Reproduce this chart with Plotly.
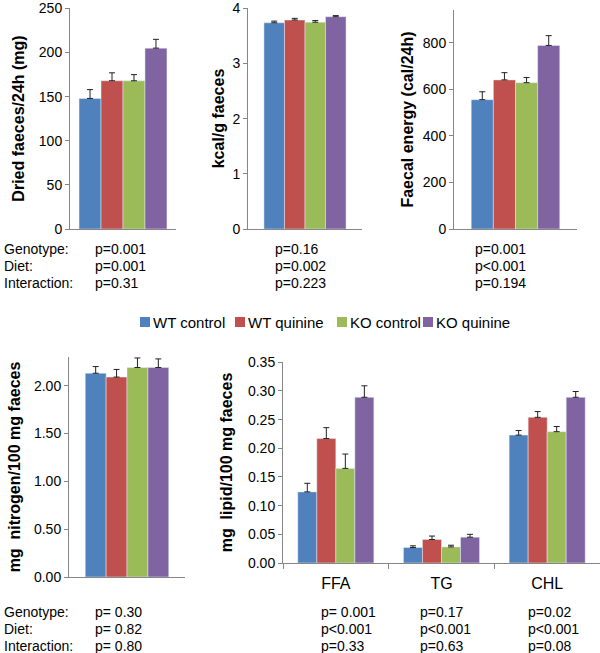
import plotly.graph_objects as go

W, H = 600, 653

# ── Datos ──────────────────────────────────────────────────────────────────────
groups = ["WT control", "WT quinine", "KO control", "KO quinine"]
colors = ["#4F81BD", "#C0504D", "#9BBB59", "#8064A2"]

faeces_mean = [148, 168, 168, 205]
faeces_err = [10, 9, 7, 10]

kcal_mean = [3.74, 3.79, 3.75, 3.85]
kcal_err = [0.03, 0.03, 0.03, 0.02]

energy_mean = [555, 640, 628, 788]
energy_err = [34, 31, 22, 42]

nitrogen_mean = [2.13, 2.09, 2.19, 2.19]
nitrogen_err = [0.07, 0.08, 0.10, 0.09]

lipid_cats = ["FFA", "TG", "CHL"]
lipid_wt_control = [0.124, 0.027, 0.223]
lipid_wt_control_err = [0.015, 0.003, 0.008]
lipid_wt_quinine = [0.217, 0.041, 0.254]
lipid_wt_quinine_err = [0.019, 0.006, 0.010]
lipid_ko_control = [0.165, 0.028, 0.229]
lipid_ko_control_err = [0.025, 0.003, 0.009]
lipid_ko_quinine = [0.289, 0.045, 0.289]
lipid_ko_quinine_err = [0.020, 0.005, 0.010]

p_rows = ["Genotype:", "Diet:", "Interaction:"]
p_faeces = ["p=0.001", "p=0.001", "p=0.31"]
p_kcal = ["p=0.16", "p=0.002", "p=0.223"]
p_energy = ["p=0.001", "p<0.001", "p=0.194"]
p_nitrogen = ["p= 0.30", "p= 0.82", "p= 0.80"]
p_ffa = ["p= 0.001", "p<0.001", "p=0.33"]
p_tg = ["p=0.17", "p<0.001", "p=0.63"]
p_chl = ["p=0.02", "p<0.001", "p=0.08"]

FONT = "Liberation Sans, Arial, sans-serif"
AXIS_GREY = "#868686"


def px_x(a, b):
    return [a / W, b / W]


def px_y(bottom, top):
    return [1 - bottom / H, 1 - top / H]


fig = go.Figure()

# ── Paneles de un solo grupo ──────────────────────────────────────────────────
single = [
    (faeces_mean, faeces_err, ""),
    (kcal_mean, kcal_err, "2"),
    (energy_mean, energy_err, "3"),
    (nitrogen_mean, nitrogen_err, "4"),
]
for k, (means, errs, ax) in enumerate(single):
    for i, g in enumerate(groups):
        fig.add_trace(go.Bar(
            x=[0], y=[means[i]], name=g,
            marker_color=colors[i],
            error_y=dict(type="data", array=[errs[i]], arrayminus=[0],
                         symmetric=False, color="#222", thickness=1, width=3),
            xaxis="x" + ax, yaxis="y" + ax,
            legendgroup=g, showlegend=False,
        ))

# ── Panel de lípidos ──────────────────────────────────────────────────────────
lipid_series = [
    (lipid_wt_control, lipid_wt_control_err),
    (lipid_wt_quinine, lipid_wt_quinine_err),
    (lipid_ko_control, lipid_ko_control_err),
    (lipid_ko_quinine, lipid_ko_quinine_err),
]
for i, (vals, errs) in enumerate(lipid_series):
    fig.add_trace(go.Bar(
        x=lipid_cats, y=vals, name=groups[i],
        marker_color=colors[i],
        error_y=dict(type="data", array=errs, arrayminus=[0] * len(errs),
                     symmetric=False, color="#222", thickness=1, width=3),
        xaxis="x5", yaxis="y5",
        legendgroup=groups[i], showlegend=False,
    ))

tickfont = dict(size=14, color="#000", family=FONT)
titlefont = dict(size=16, color="#000", family=FONT, weight="bold")


def yax(domain, anchor, rng, dtick, title, standoff, fmt=None):
    d = dict(domain=domain, anchor=anchor, range=rng, dtick=dtick, tick0=0,
             showgrid=False, zeroline=False, showline=True, linecolor=AXIS_GREY,
             linewidth=1, ticks="outside", ticklen=4, tickcolor=AXIS_GREY,
             tickfont=tickfont,
             title=dict(text=title, font=titlefont, standoff=standoff),
             automargin=False, fixedrange=True)
    if fmt:
        d["tickformat"] = fmt
    return d


def xax_single(domain, anchor, half):
    return dict(domain=domain, anchor=anchor, range=[-half, half],
                showgrid=False, zeroline=False, showline=True,
                linecolor=AXIS_GREY, linewidth=1, showticklabels=False,
                ticks="", automargin=False, fixedrange=True)


fig.update_layout(
    width=W, height=H,
    margin=dict(l=0, r=0, t=0, b=0),
    plot_bgcolor="white", paper_bgcolor="white",
    font=dict(family=FONT, color="#000"),
    showlegend=False,
    barmode="group", bargap=0.28, bargroupgap=0,
    xaxis=xax_single(px_x(70, 176), "y", 0.434),
    yaxis=yax(px_y(229, 8), "x", [0, 250.5], 50, "Dried faeces/24h (mg)", 10),
    xaxis2=xax_single(px_x(248, 362), "y2", 0.5),
    yaxis2=yax(px_y(229, 8), "x2", [0, 4.008], 1, "kcal/g faeces", 3),
    xaxis3=xax_single(px_x(454, 577), "y3", 0.5),
    yaxis3=yax(px_y(229, 10), "x3", [0, 940], 200,
               "Faecal energy (cal/24h)", 5),
    xaxis4=xax_single(px_x(69, 185), "y4", 0.5),
    yaxis4=yax(px_y(577, 357), "x4", [0, 2.3], 0.5,
               "mg \u00a0nitrogen/100 mg faeces", 9, ".2f"),
    xaxis5=dict(domain=px_x(283, 600), anchor="y5", range=[-0.5, 2.5],
                type="category", tickson="boundaries", ticks="outside",
                ticklen=5, tickcolor=AXIS_GREY, showgrid=False, zeroline=False,
                showline=True, linecolor=AXIS_GREY, linewidth=1,
                ticklabelstandoff=6,
                tickfont=dict(size=16, color="#000", family=FONT),
                automargin=False, fixedrange=True),
    yaxis5=yax(px_y(563, 362), "x5", [0, 0.3505], 0.05,
               "mg \u00a0lipid/100 mg faeces", 11, ".2f"),
)

# ── Leyenda (cuadro de color + texto, estilo Excel) ───────────────────────────
legend_square_x = [140, 235, 337, 423]
legend_y = 322
for i, g in enumerate(groups):
    x0 = legend_square_x[i]
    fig.add_shape(type="rect", xref="paper", yref="paper",
                  x0=x0 / W, x1=(x0 + 10) / W,
                  y0=1 - (legend_y + 5) / H, y1=1 - (legend_y - 5) / H,
                  fillcolor=colors[i], line_width=0)
    fig.add_annotation(text=g, x=(x0 + 11) / W, y=1 - legend_y / H,
                       xref="paper", yref="paper", xanchor="left",
                       yanchor="middle", showarrow=False,
                       font=dict(size=15, color="#000", family=FONT))


# ── Valores p ─────────────────────────────────────────────────────────────────
def note(text, x, y):
    fig.add_annotation(text=text, x=x / W, y=1 - y / H, xref="paper",
                       yref="paper", xanchor="left", yanchor="middle",
                       showarrow=False,
                       font=dict(size=14, color="#000", family=FONT))


top_rows = [249, 266, 283]
bottom_rows = [612, 629, 646]
for j, r in enumerate(p_rows):
    note(r, 2, top_rows[j])
    note(r, 2, bottom_rows[j])
    note(p_faeces[j], 93, top_rows[j])
    note(p_kcal[j], 273, top_rows[j])
    note(p_energy[j], 473, top_rows[j])
    note(p_nitrogen[j], 93, bottom_rows[j])
    note(p_ffa[j], 319, bottom_rows[j])
    note(p_tg[j], 418, bottom_rows[j])
    note(p_chl[j], 526, bottom_rows[j])

fig.write_html("out.html", config={"displayModeBar": False},
               post_script="document.body.style.margin='0';")
